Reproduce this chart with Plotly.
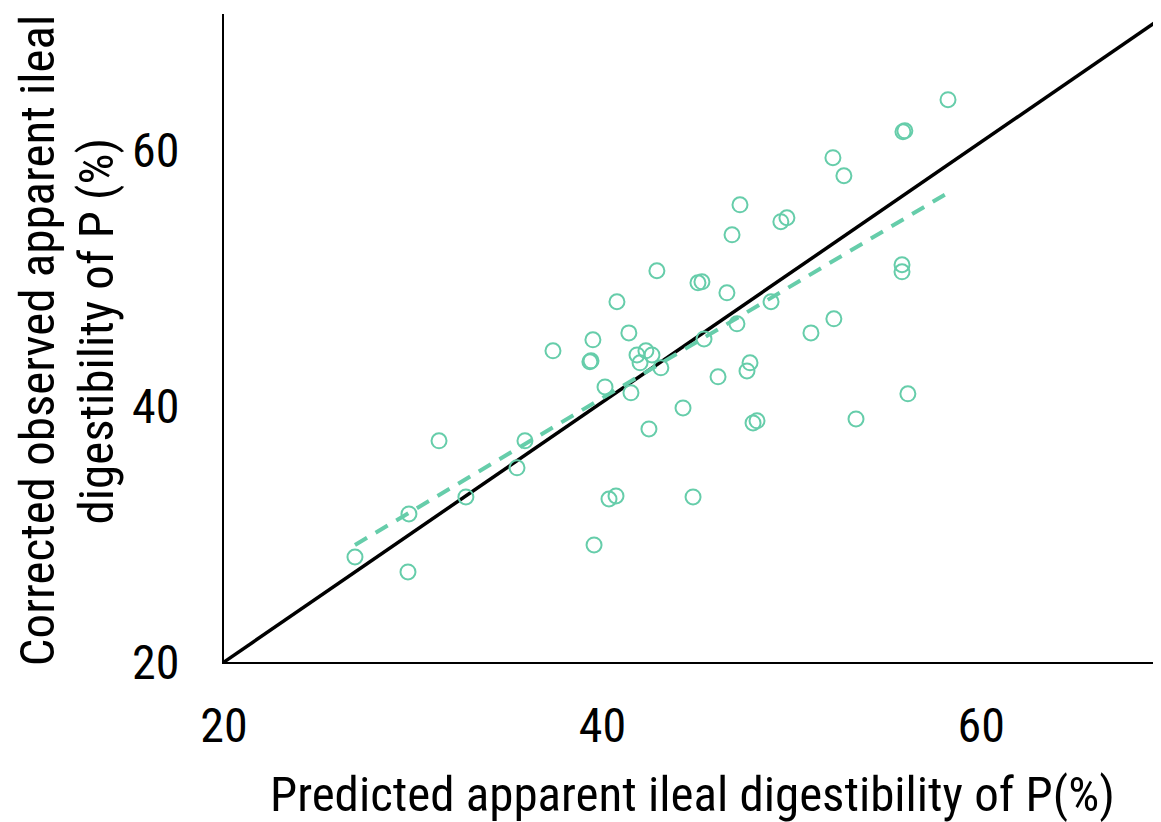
import plotly.graph_objects as go

# Observed points (predicted x, corrected observed y)
pred_x = [26.92, 29.72, 29.77, 31.36, 32.78, 35.48, 35.90, 37.38, 39.55, 40.34,
          40.71, 39.33, 39.39, 39.49, 40.13, 40.76, 41.39, 41.50, 41.82, 41.98,
          42.29, 42.61, 42.45, 42.87, 43.08, 44.25, 44.78, 45.04, 45.25, 45.36,
          46.10, 46.57, 46.84, 47.10, 47.26, 47.63, 47.79, 47.95, 48.16, 48.90,
          49.42, 49.74, 51.01, 52.17, 52.22, 52.75, 53.39, 55.82, 55.82, 55.87,
          55.97, 56.13, 58.25]
obs_y = [28.20, 27.03, 31.56, 37.27, 32.89, 35.16, 37.27, 44.30, 29.14, 32.73,
         32.97, 43.44, 43.52, 45.16, 41.48, 48.13, 45.70, 41.02, 43.98, 43.36,
         44.30, 43.98, 38.20, 50.55, 42.97, 39.84, 32.89, 49.61, 49.69, 45.23,
         42.27, 48.83, 53.36, 46.41, 55.70, 42.73, 43.36, 38.67, 38.83, 48.13,
         54.38, 54.69, 45.70, 59.38, 46.80, 57.97, 38.98, 51.02, 50.47, 61.41,
         61.48, 40.94, 63.91]

# Regression line endpoints (dashed)
fit_x = [26.92, 58.25]
fit_y = [29.14, 56.64]

# Reference (1:1) line endpoints
id_x = [20, 69.45]
id_y = [20, 70.2]

tick_vals = [20, 40, 60]
tick_text = ["20", "40", "60"]

green = "rgb(102,205,170)"
font_family = "Roboto Condensed, Liberation Sans Narrow, Arial Narrow, sans-serif"
tick_fs = 48
title_fs = 49

fig = go.Figure()
fig.add_trace(go.Scatter(x=id_x, y=id_y, mode="lines",
                         line=dict(color="black", width=3.5), showlegend=False,
                         hoverinfo="skip"))
fig.add_trace(go.Scatter(x=fit_x, y=fit_y, mode="lines",
                         line=dict(color=green, width=4, dash="14px,10px"),
                         showlegend=False))
fig.add_trace(go.Scatter(x=pred_x, y=obs_y, mode="markers",
                         marker=dict(symbol="circle-open", size=15,
                                     color=green, line=dict(width=2, color=green)),
                         showlegend=False))

fig.update_layout(
    width=1153, height=814,
    margin=dict(l=216, r=1, t=6, b=160),
    paper_bgcolor="white", plot_bgcolor="white",
    font=dict(family=font_family, size=tick_fs, color="black"),
    xaxis=dict(range=[20, 69.45], tickvals=tick_vals, ticktext=tick_text,
               showline=True, linecolor="black", linewidth=2, showgrid=False,
               zeroline=False, ticks="", ticklabelstandoff=20, automargin=False),
    yaxis=dict(range=[20, 70.6], tickvals=tick_vals, ticktext=tick_text,
               showline=True, linecolor="black", linewidth=2, showgrid=False,
               zeroline=False, ticks="", ticklabelstandoff=33, automargin=False),
    annotations=[
        dict(text="Predicted apparent ileal digestibility of P(%)",
             xref="paper", yref="paper", x=0.5, y=0, yshift=-132,
             xanchor="center", yanchor="middle", showarrow=False,
             font=dict(size=title_fs)),
        dict(text="Corrected observed apparent ileal",
             xref="paper", yref="paper", x=0, y=0.495, xshift=-187,
             xanchor="center", yanchor="middle", textangle=-90, showarrow=False,
             font=dict(size=title_fs)),
        dict(text="digestibility of P (%)",
             xref="paper", yref="paper", x=0, y=0.51, xshift=-127,
             xanchor="center", yanchor="middle", textangle=-90, showarrow=False,
             font=dict(size=title_fs)),
    ],
)

fig.write_html("out.html")
